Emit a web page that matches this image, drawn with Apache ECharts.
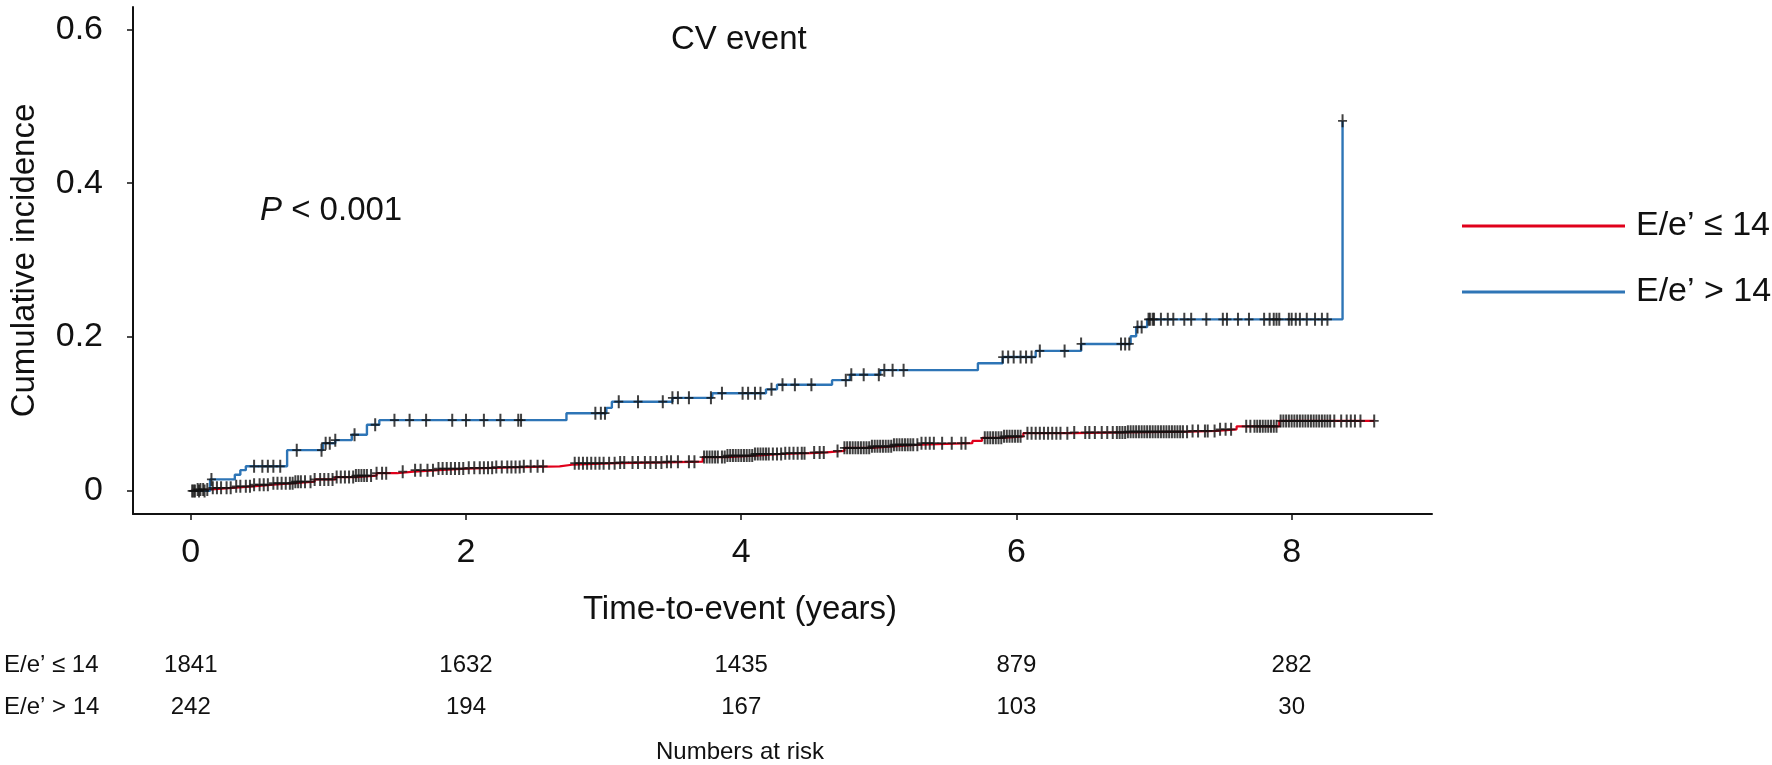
<!DOCTYPE html>
<html><head><meta charset="utf-8">
<script src="https://cdn.jsdelivr.net/npm/echarts@6/dist/echarts.min.js"></script>
<style>html,body{margin:0;padding:0;background:#fff}#c{width:1772px;height:765px}</style>
</head><body><div id="c"></div>
<script>
const seriesNames = ['E/e\u2019 \u2264 14', 'E/e\u2019 > 14'];
const xTicks = [0, 2, 4, 6, 8];
const yTicks = [0, 0.2, 0.4, 0.6];
const riskLow = [1841, 1632, 1435, 879, 282];
const riskHigh = [242, 194, 167, 103, 30];

// [time, cumulative incidence] — value holds from time onward
const lowSteps = [[0,0],[0.05,0.002],[0.15,0.004],[0.3,0.006],[0.45,0.008],[0.6,0.010],[0.75,0.012],[0.9,0.015],[1.05,0.018],[1.2,0.020],[1.35,0.023],[1.5,0.025],[1.62,0.027],[1.8,0.029],[2.0,0.030],[2.2,0.031],[2.4,0.032],[2.68,0.034],[2.77,0.036],[3.1,0.037],[3.45,0.038],[3.72,0.044],[3.9,0.046],[4.1,0.048],[4.3,0.049],[4.5,0.050],[4.62,0.052],[4.75,0.056],[4.95,0.058],[5.1,0.060],[5.3,0.062],[5.68,0.065],[5.75,0.069],[5.9,0.071],[6.05,0.075],[6.4,0.076],[6.8,0.077],[7.25,0.078],[7.45,0.080],[7.6,0.084],[7.91,0.091]];
const highSteps = [[0,0],[0.14,0.015],[0.32,0.021],[0.36,0.027],[0.40,0.032],[0.70,0.053],[0.96,0.062],[1.05,0.066],[1.17,0.073],[1.28,0.086],[1.37,0.092],[2.73,0.101],[3.02,0.108],[3.06,0.116],[3.50,0.121],[3.79,0.127],[4.18,0.132],[4.26,0.138],[4.66,0.144],[4.79,0.151],[5.01,0.157],[5.72,0.166],[5.90,0.174],[6.14,0.182],[6.47,0.191],[6.83,0.201],[6.87,0.213],[6.95,0.223],[8.37,0.481]];

// censoring times
const lowCensor = [0.01,0.03,0.05,0.07,0.09,0.12,0.16,0.19,0.22,0.26,0.29,0.33,0.36,0.4,0.43,0.46,0.5,0.53,0.56,0.6,0.63,0.66,0.69,0.72,0.74,0.76,0.78,0.8,0.83,0.87,0.9,0.94,0.97,1.0,1.03,1.06,1.09,1.12,1.15,1.18,1.2,1.22,1.24,1.26,1.28,1.31,1.35,1.39,1.42,
1.54,
1.63,1.67,1.72,1.76,1.8,1.83,1.86,1.89,1.92,1.95,1.98,2.02,2.06,2.1,2.13,2.16,2.19,2.22,2.26,2.3,2.33,2.36,2.39,2.42,2.47,2.52,2.56,
2.79,2.82,2.85,2.88,2.91,2.94,2.97,3.0,3.04,3.08,3.12,3.15,
3.21,3.25,3.3,3.34,3.38,3.42,3.46,3.49,
3.54,3.62,3.66,
3.73,3.75,3.77,3.79,3.81,3.83,3.86,3.88,3.9,3.92,3.94,3.96,3.98,4.0,4.02,4.04,4.06,4.08,4.1,4.12,4.14,4.16,4.18,4.2,4.23,4.26,4.29,4.32,4.35,4.38,4.41,4.44,4.46,
4.53,4.57,4.6,4.7,
4.75,4.77,4.79,4.81,4.83,4.85,4.87,4.89,4.91,4.93,4.95,4.97,4.99,5.01,5.03,5.05,5.07,5.09,5.11,5.13,5.15,5.17,5.19,5.21,5.23,5.25,5.28,5.31,5.34,5.37,5.4,
5.46,5.53,5.6,5.63,
5.77,5.79,5.81,5.83,5.85,5.87,5.89,5.91,5.93,5.95,5.97,5.99,6.01,6.03,
6.08,6.11,6.14,6.17,6.2,6.23,6.26,6.29,6.32,
6.37,6.42,6.5,6.53,6.57,6.62,6.66,6.7,
6.73,6.75,6.77,6.79,6.81,6.83,6.85,6.87,6.89,6.91,6.93,6.95,6.97,6.99,7.01,7.03,7.05,7.07,7.09,7.11,7.13,7.15,7.17,7.19,7.21,7.24,
7.28,7.32,7.37,7.39,7.44,7.48,7.52,7.56,
7.67,7.7,7.73,7.75,7.77,7.79,7.81,7.83,7.85,7.87,7.89,
7.92,7.94,7.96,7.98,8.0,8.02,8.04,8.06,8.08,8.1,8.12,8.14,8.16,8.18,8.2,8.22,8.24,8.26,8.28,
8.31,8.36,8.4,8.43,8.46,8.5,8.6];
const highCensor = [0.02,0.06,0.10,0.15,0.46,0.52,0.56,0.60,0.65,0.77,0.95,0.98,1.01,1.05,1.19,1.34,1.48,1.59,1.71,1.90,2.00,2.13,2.25,2.38,2.40,2.94,2.98,3.01,3.11,3.25,3.43,3.50,3.54,3.62,3.78,3.86,4.01,4.05,4.10,4.14,4.22,4.30,4.39,4.51,4.76,4.80,4.89,5.00,5.04,5.10,5.18,5.90,5.94,5.98,6.03,6.07,6.11,6.17,6.35,6.47,6.76,6.79,6.82,6.88,6.91,6.96,6.97,6.99,7.00,7.05,7.10,7.14,7.22,7.27,7.38,7.50,7.53,7.61,7.69,7.80,7.84,7.87,7.89,7.91,7.98,8.00,8.03,8.06,8.11,8.17,8.22,8.26,8.37];

function stepValue(steps, t) {
  let v = steps[0][1];
  for (const s of steps) { if (s[0] <= t + 1e-9) v = s[1]; else break; }
  return v;
}
function lineData(steps, end) {
  const d = steps.map(p => [p[0], p[1]]);
  const last = d[d.length - 1];
  if (end > last[0]) d.push([end, last[1]]);
  return d;
}
const censorData = (steps, times) => times.map(t => [t, stepValue(steps, t)]);

const FONT = 'Liberation Sans, Arial, sans-serif';
const RED = '#e0001b', BLUE = '#2e75b6', INK = '#111';
const plusPath = 'path://M3.5,0H5.5V5.6H9V7.4H5.5V13H3.5V7.4H0V5.6H3.5Z';
const X_MIN = -0.42, X_MAX = 9.02;

const riskAxis = (vals, offset) => ({
  type: 'value', gridIndex: 0, position: 'bottom', offset: offset,
  min: X_MIN, max: X_MAX,
  axisLine: {show: false}, axisTick: {show: false}, splitLine: {show: false},
  axisLabel: {customValues: xTicks, margin: 8, fontSize: 24, color: INK, fontFamily: FONT,
    formatter: v => { const i = xTicks.indexOf(v); return i >= 0 ? String(vals[i]) : ''; }}
});

const chart = echarts.init(document.getElementById('c'), null, {renderer: 'canvas'});
chart.setOption({
  animation: false,
  backgroundColor: '#fff',
  textStyle: {fontFamily: FONT},
  title: {text: 'CV event', left: 671, top: 23, padding: 0,
    textStyle: {fontSize: 33, fontWeight: 'normal', color: INK, fontFamily: FONT}},
  legend: {
    orient: 'vertical', left: 1462, top: 206, itemGap: 26, padding: 0,
    itemWidth: 163, itemHeight: 3, icon: 'rect',
    data: seriesNames,
    textStyle: {fontSize: 34, color: INK, fontFamily: FONT, lineHeight: 40, padding: [0, 0, 0, 6]}
  },
  grid: {left: 131, right: 340, top: 7, bottom: 251, containLabel: false},
  xAxis: [
    {type: 'value', min: X_MIN, max: X_MAX,
      axisLine: {show: true, onZero: false, lineStyle: {color: INK, width: 2}},
      axisTick: {show: true, customValues: xTicks, length: 6, lineStyle: {color: INK, width: 1.5}},
      axisLabel: {customValues: xTicks, margin: 22, fontSize: 34, color: INK, fontFamily: FONT},
      splitLine: {show: false}},
    riskAxis(riskLow, 131),
    riskAxis(riskHigh, 173)
  ],
  yAxis: {type: 'value', min: -0.03, max: 0.629,
    name: 'Cumulative incidence', nameLocation: 'middle', nameGap: 92,
    nameTextStyle: {fontSize: 33, color: INK, fontFamily: FONT},
    axisLine: {show: true, onZero: false, lineStyle: {color: INK, width: 2}},
    axisTick: {show: true, customValues: yTicks, length: 6, lineStyle: {color: INK, width: 1.5}},
    axisLabel: {customValues: yTicks, margin: 30, fontSize: 34, color: INK, fontFamily: FONT},
    splitLine: {show: false}},
  graphic: [
    {type: 'text', x: 260, y: 211, style: {text: '{i|P} < 0.001', fontSize: 33, fill: INK, fontFamily: FONT,
      verticalAlign: 'middle', rich: {i: {fontStyle: 'italic', fontSize: 33, fontFamily: FONT, fill: INK}}}},
    {type: 'text', x: 740, y: 610, style: {text: 'Time-to-event (years)', fontSize: 33, fill: INK, fontFamily: FONT, align: 'center', verticalAlign: 'middle'}},
    {type: 'text', x: 4, y: 665, style: {text: seriesNames[0], fontSize: 24, fill: INK, fontFamily: FONT, verticalAlign: 'middle'}},
    {type: 'text', x: 4, y: 707, style: {text: seriesNames[1], fontSize: 24, fill: INK, fontFamily: FONT, verticalAlign: 'middle'}},
    {type: 'text', x: 740, y: 752, style: {text: 'Numbers at risk', fontSize: 24, fill: INK, fontFamily: FONT, align: 'center', verticalAlign: 'middle'}}
  ],
  series: [
    {name: seriesNames[0], type: 'line', step: 'end', showSymbol: false, color: RED,
      lineStyle: {color: RED, width: 2.2}, data: lineData(lowSteps, lowCensor[lowCensor.length - 1]), z: 2},
    {name: seriesNames[1], type: 'line', step: 'end', showSymbol: false, color: BLUE,
      lineStyle: {color: BLUE, width: 2.4}, data: lineData(highSteps, highCensor[highCensor.length - 1]), z: 2},
    {name: 'censor-low', type: 'scatter', symbol: plusPath, symbolSize: [9, 13], silent: true,
      itemStyle: {color: '#111'}, data: censorData(lowSteps, lowCensor), z: 3},
    {name: 'censor-high', type: 'scatter', symbol: plusPath, symbolSize: [9, 13], silent: true,
      itemStyle: {color: '#111'}, data: censorData(highSteps, highCensor), z: 3}
  ]
});
</script></body></html>
